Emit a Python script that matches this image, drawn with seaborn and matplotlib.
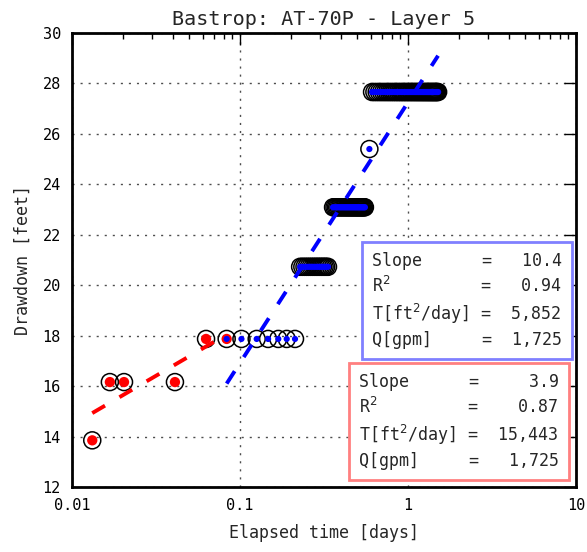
import matplotlib
matplotlib.use("Agg")
import matplotlib.pyplot as plt
import seaborn as sns
import numpy as np
from matplotlib.ticker import FixedLocator, FixedFormatter, LogLocator, NullFormatter, NullLocator

# ---------------- data ----------------
# all observations (elapsed time in days, drawdown in feet)
t_early = [0.0132, 0.0168, 0.0204, 0.0410, 0.0628]
y_early = [13.85, 16.16, 16.16, 16.16, 17.87]

t_step18 = [0.0833, 0.1020, 0.1257, 0.1470, 0.1690, 0.1897, 0.2125]
y_step18 = [17.87] * 7

t_step21 = [0.228, 0.235, 0.242, 0.249, 0.256, 0.263, 0.270, 0.277,
            0.284, 0.291, 0.298, 0.305, 0.312, 0.319, 0.326, 0.334]
y_step21 = [20.73] * 16

t_step23 = [0.358, 0.365, 0.372, 0.379, 0.386, 0.393, 0.400, 0.407, 0.414,
            0.421, 0.428, 0.435, 0.442, 0.449, 0.456, 0.463, 0.470, 0.477,
            0.484, 0.491, 0.498, 0.505, 0.512, 0.519, 0.526, 0.533, 0.540,
            0.547, 0.554]
y_step23 = [23.09] * 29

t_step25 = [0.589]
y_step25 = [25.40]

t_step28 = [0.611, 0.631, 0.651, 0.671, 0.691, 0.711, 0.731, 0.751, 0.771,
            0.791, 0.811, 0.831, 0.851, 0.871, 0.891, 0.911, 0.931, 0.951,
            0.971, 0.991, 1.011, 1.031, 1.051, 1.071, 1.091, 1.111, 1.131,
            1.151, 1.171, 1.191, 1.211, 1.231, 1.251, 1.271, 1.291, 1.311,
            1.331, 1.351, 1.371, 1.391, 1.411, 1.431, 1.451, 1.471, 1.491,
            1.511]
y_step28 = [27.66] * 46

t_all = t_early + t_step18 + t_step21 + t_step23 + t_step25 + t_step28
y_all = y_early + y_step18 + y_step21 + y_step23 + y_step25 + y_step28

# early-time fit points (red) and late-time fit points (blue)
t_red = t_early + [0.0833]
y_red = y_early + [17.87]
t_blue = t_step18 + t_step21 + t_step23 + t_step25 + t_step28
y_blue = y_step18 + y_step21 + y_step23 + y_step25 + y_step28

# fitted straight lines (end points)
red_fit_t = [0.0132, 0.0833]
red_fit_y = [14.93, 18.05]
blue_fit_t = [0.0833, 1.51]
blue_fit_y = [16.10, 29.10]

x_ticks = [0.01, 0.1, 1, 10]
x_tick_labels = ["0.01", "0.1", "1", "10"]
y_ticks = [12, 14, 16, 18, 20, 22, 24, 26, 28, 30]

blue_text = ("Slope      =   10.4\n"
             "R$^2$         =   0.94\n"
             "T[ft$^2$/day] =  5,852\n"
             "Q[gpm]     =  1,725")
red_text = ("Slope      =     3.9\n"
            "R$^2$         =    0.87\n"
            "T[ft$^2$/day] =  15,443\n"
            "Q[gpm]     =   1,725")

# ---------------- style ----------------
sns.set_theme(style="white")
plt.rcParams["font.family"] = ["DejaVu Sans Mono", "DejaVu Sans"]
plt.rcParams["mathtext.fontset"] = "dejavusans"

fig = plt.figure(figsize=(5.87, 5.52), dpi=100)
ax = fig.add_axes([72 / 587, 65 / 552, 504 / 587, 454 / 552])

# all data: open black circles
sns.scatterplot(x=t_all, y=y_all, ax=ax, marker="o", s=150,
                facecolors="none", edgecolor="black", linewidth=1.1,
                zorder=3, legend=False)
# early fit data: red dots
sns.scatterplot(x=t_red, y=y_red, ax=ax, marker="o", s=55,
                color="red", edgecolor="none", linewidth=0,
                zorder=4, legend=False)
# late fit data: blue dots
sns.scatterplot(x=t_blue, y=y_blue, ax=ax, marker="o", s=20,
                color="blue", edgecolor="none", linewidth=0,
                zorder=5, legend=False)

# fit lines
sns.lineplot(x=red_fit_t, y=red_fit_y, ax=ax, color="red", linewidth=2.8,
             linestyle=(0, (3.8, 4.3)), sort=False, estimator=None, zorder=6)
sns.lineplot(x=blue_fit_t, y=blue_fit_y, ax=ax, color="blue", linewidth=2.8,
             linestyle=(0, (3.8, 4.3)), sort=False, estimator=None, zorder=6)

ax.set_xscale("log")
ax.set_xlim(0.01, 10)
ax.set_ylim(12, 30)
ax.xaxis.set_major_locator(FixedLocator(x_ticks))
ax.xaxis.set_major_formatter(FixedFormatter(x_tick_labels))
ax.xaxis.set_minor_locator(LogLocator(base=10, subs=np.arange(2, 10)))
ax.xaxis.set_minor_formatter(NullFormatter())
ax.yaxis.set_major_locator(FixedLocator(y_ticks))
ax.yaxis.set_minor_locator(NullLocator())

ax.grid(True, which="major", color="0.3", linestyle=(0, (1.5, 4.3)), linewidth=1.0)
ax.tick_params(which="both", direction="in", top=True, right=True,
               colors="black", labelsize=11, width=1.0)
ax.tick_params(which="major", length=8.5, pad=8)
ax.tick_params(which="minor", length=4.3)
for sp in ax.spines.values():
    sp.set_linewidth(2.0)
    sp.set_color("black")

ax.set_title("Bastrop: AT-70P - Layer 5", fontsize=14.5, pad=6)
ax.set_xlabel("Elapsed time [days]", fontsize=12, labelpad=8)
ax.set_ylabel("Drawdown [feet]", fontsize=12, labelpad=8)

ax.text(0.595, 0.518, blue_text, transform=ax.transAxes, ha="left", va="top",
        fontsize=12, linespacing=1.35, zorder=7,
        bbox=dict(boxstyle="square,pad=0.6", facecolor="white",
                  edgecolor="#8080ff", linewidth=2))
ax.text(0.570, 0.251, red_text, transform=ax.transAxes, ha="left", va="top",
        fontsize=12, linespacing=1.35, zorder=7,
        bbox=dict(boxstyle="square,pad=0.6", facecolor="white",
                  edgecolor="#ff8080", linewidth=2))

fig.savefig("out.png", dpi=100)
